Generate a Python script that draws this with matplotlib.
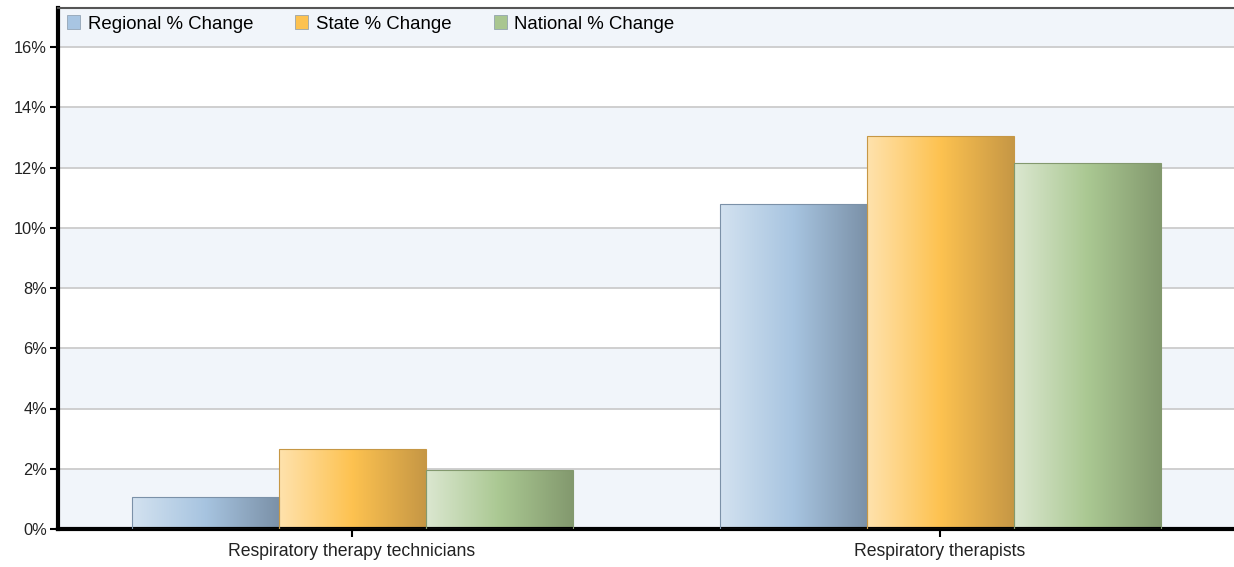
import numpy as np
import matplotlib.pyplot as plt
from matplotlib.patches import Rectangle
from matplotlib.colors import LinearSegmentedColormap

plt.rcParams['font.family'] = ['Liberation Sans', 'DejaVu Sans']

categories = ['Respiratory therapy technicians', 'Respiratory therapists']
series = ['Regional % Change', 'State % Change', 'National % Change']
regional = [1.06, 10.79]
state = [2.64, 13.05]
national = [1.96, 12.15]
values = [regional, state, national]

# gradient stops (left, middle, right) per series
grads = [['#d3e2f0', '#a7c4e0', '#7b91a8'],
         ['#ffe2ad', '#fdc250', '#c69745'],
         ['#dbe7d0', '#aac892', '#83996e']]
legend_cols = ['#a8c5e2', '#fdc250', '#a9c690']

fig = plt.figure(figsize=(12.34, 5.67), dpi=100)
ax = fig.add_axes([58 / 1234, 38 / 567, 1176 / 1234, 521 / 567])
ymax = 521 / 30.125
ax.set_xlim(-0.5, 1.5)
ax.set_ylim(0, ymax)

# alternating bands
band_edges = [0, 2, 4, 6, 8, 10, 12, 14, 16, ymax]
for i in range(len(band_edges) - 1):
    c = '#f1f5fa' if i % 2 == 0 else 'white'
    ax.axhspan(band_edges[i], band_edges[i + 1], color=c, zorder=0, lw=0)
for y in range(2, 18, 2):
    ax.axhline(y, color='#cccccc', lw=1.3, zorder=1)

width = 0.25
for s, vals in enumerate(values):
    cmap = LinearSegmentedColormap.from_list('g%d' % s, grads[s])
    grad = np.linspace(0, 1, 256).reshape(1, -1)
    for j, v in enumerate(vals):
        x0 = j + (s - 1) * width - width / 2
        rect = Rectangle((x0, 0), width, v, facecolor='none',
                         edgecolor=grads[s][2], lw=0.8, zorder=3)
        ax.add_patch(rect)
        im = ax.imshow(grad, cmap=cmap, aspect='auto',
                       extent=(x0, x0 + width, 0, v), zorder=2)
        im.set_clip_path(rect)

ax.set_xticks([0, 1])
ax.set_xticklabels(categories, fontsize=12.7)
ax.set_yticks(range(0, 18, 2))
ax.set_yticklabels(['%d%%' % t for t in range(0, 18, 2)], fontsize=11.8)
ax.tick_params(axis='both', length=6, width=1.5, color='black', labelcolor='#222222')
ax.tick_params(axis='x', pad=4)
ax.tick_params(axis='y', pad=2)

ax.spines['left'].set_linewidth(3)
ax.spines['bottom'].set_linewidth(3)
ax.spines['top'].set_linewidth(1.5)
ax.spines['top'].set_color('#555555')
ax.spines['right'].set_visible(False)

handles = [Rectangle((0, 0), 1, 1, facecolor=legend_cols[i], edgecolor='#8899aa', lw=0.5)
           for i in range(3)]
ax.legend(handles, series, loc='center left', bbox_to_anchor=(9 / 1176, 505 / 521), ncol=3,
          frameon=False, fontsize=13.4, handlelength=0.7, handleheight=0.7,
          handletextpad=0.42, columnspacing=2.25, borderaxespad=0, borderpad=0)

fig.savefig('out.png', dpi=100)
